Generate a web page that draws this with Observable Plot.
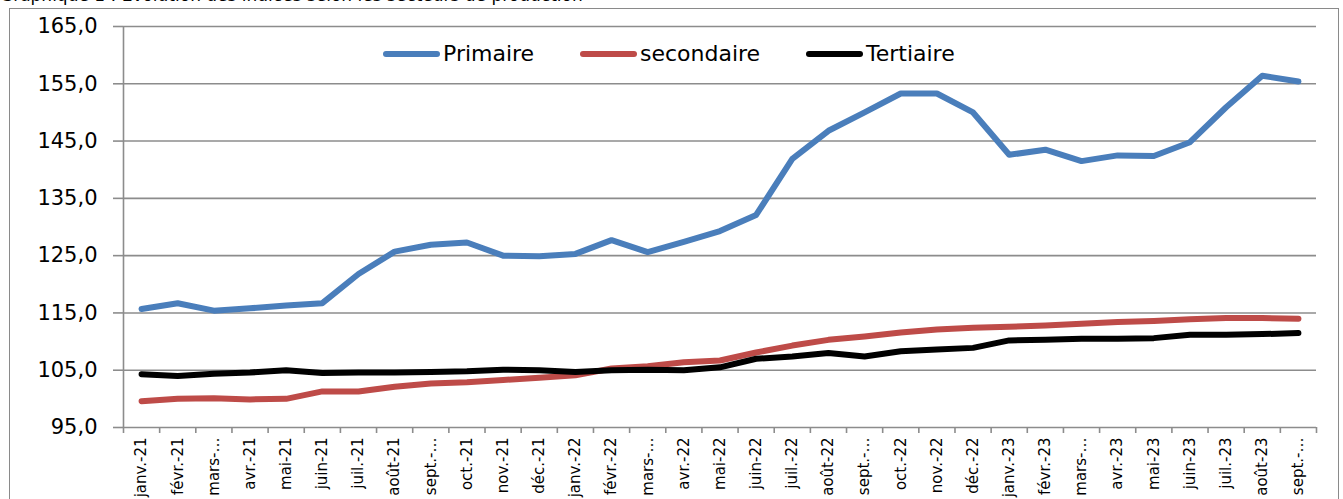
<!DOCTYPE html>
<html>
<head>
<meta charset="utf-8">
<script src="https://cdn.jsdelivr.net/npm/d3@7"></script>
<script src="https://cdn.jsdelivr.net/npm/@observablehq/plot@0.6"></script>
<style>
  html, body { margin: 0; padding: 0; background: #fff; }
  body { width: 1343px; height: 499px; overflow: hidden; position: relative; font-family: "DejaVu Sans", sans-serif; }
  #title { position: absolute; left: 0; top: -15px; font-size: 17px; color: #000; white-space: nowrap; }
  #frame { position: absolute; left: 9px; top: 8px; width: 1330px; height: 600px; border: 1.5px solid #8a8a8a; box-sizing: border-box; }
  #chart { position: absolute; left: 0; top: 0; }
  .leg { position: absolute; top: 41px; font-size: 22px; color: #000; white-space: nowrap; display: flex; align-items: center; }
  .leg .sw { display: inline-block; width: 57px; height: 6px; border-radius: 3px; margin-right: 3px; }
</style>
</head>
<body>
<div id="title">Graphique 1 : Evolution des indices selon les secteurs de production</div>
<div id="frame"></div>
<div id="chart"></div>
<div id="legend"></div>
<script>
// Categories (unique keys) and displayed tick labels
const months = ["janv.-21","févr.-21","mars-21","avr.-21","mai-21","juin-21","juil.-21","août-21","sept.-21","oct.-21","nov.-21","déc.-21",
                "janv.-22","févr.-22","mars-22","avr.-22","mai-22","juin-22","juil.-22","août-22","sept.-22","oct.-22","nov.-22","déc.-22",
                "janv.-23","févr.-23","mars-23","avr.-23","mai-23","juin-23","juil.-23","août-23","sept.-23"];
const tickLabels = ["janv.-21","févr.-21","mars-…","avr.-21","mai-21","juin-21","juil.-21","août-21","sept.-…","oct.-21","nov.-21","déc.-21",
                    "janv.-22","févr.-22","mars-…","avr.-22","mai-22","juin-22","juil.-22","août-22","sept.-…","oct.-22","nov.-22","déc.-22",
                    "janv.-23","févr.-23","mars-…","avr.-23","mai-23","juin-23","juil.-23","août-23","sept.-…"];

const sectors = ["Primaire", "secondaire", "Tertiaire"];
const sectorColors = ["#4a7ebb", "#be4b48", "#000000"];

const primaire = [115.7,116.7,115.4,115.8,116.3,116.7,121.8,125.7,126.9,127.3,125.0,124.9,
                  125.3,127.7,125.6,127.4,129.3,132.1,141.9,146.8,150.0,153.3,153.3,150.0,
                  142.6,143.5,141.5,142.5,142.4,144.8,150.9,156.4,155.4];
const secondaire = [99.6,100.0,100.1,99.9,100.0,101.3,101.3,102.1,102.7,102.9,103.3,103.7,
                    104.1,105.3,105.7,106.4,106.7,108.1,109.3,110.3,110.9,111.6,112.1,112.4,
                    112.6,112.8,113.1,113.4,113.6,113.9,114.1,114.1,114.0];
const tertiaire = [104.3,104.0,104.4,104.6,105.0,104.5,104.6,104.6,104.7,104.8,105.1,105.0,
                   104.7,105.0,105.1,105.0,105.5,107.0,107.4,108.0,107.4,108.3,108.6,108.9,
                   110.2,110.3,110.5,110.5,110.6,111.2,111.2,111.3,111.5];

const yTicks = [95,105,115,125,135,145,155,165];

const series = [primaire, secondaire, tertiaire];
const data = sectors.flatMap((s, k) => months.map((m, i) => ({i, month: m, sector: s, value: series[k][i]})));
const idx = months.map((m, i) => i);
const boundaries = months.map((m, i) => i - 0.5).concat([months.length - 0.5]);
const gridColor = "#8c8c8c";

const chart = Plot.plot({
  width: 1343,
  height: 499,
  marginLeft: 123,
  marginRight: 27,
  marginTop: 26,
  marginBottom: 72,
  style: { fontFamily: "DejaVu Sans, sans-serif", background: "transparent", color: "#000", overflow: "visible" },
  x: { type: "linear", domain: [-0.5, months.length - 0.5] },
  y: { domain: [95, 165] },
  color: { domain: sectors, range: sectorColors },
  marks: [
    Plot.gridY(yTicks, { stroke: gridColor, strokeOpacity: 1, strokeWidth: 1.6 }),
    Plot.ruleX([-0.5], { stroke: gridColor, strokeWidth: 1.6 }),
    Plot.axisY(yTicks, { tickSize: 10, tickPadding: 16, fontSize: 21, stroke: gridColor, strokeWidth: 1.6, fill: "#000",
      tickFormat: d => d.toFixed(1).replace(".", ","), label: null }),
    Plot.axisX(boundaries, { tickSize: 6, stroke: gridColor, strokeWidth: 1.6, tickFormat: () => "", label: null }),
    Plot.axisX(idx, { tickSize: 0, tickPadding: 10, tickRotate: -90, fontSize: 15, fill: "#000",
      tickFormat: i => tickLabels[i], label: null }),
    Plot.lineY(data, { x: "i", y: "value", z: "sector", stroke: "sector", strokeWidth: 6,
      strokeLinejoin: "round", strokeLinecap: "round" })
  ]
});
document.getElementById("chart").appendChild(chart);

// Legend inside the plot area
const legendPos = [383, 580, 806];
const legend = document.getElementById("legend");
sectors.forEach((s, k) => {
  const item = document.createElement("div");
  item.className = "leg";
  item.style.left = legendPos[k] + "px";
  const sw = document.createElement("span");
  sw.className = "sw";
  sw.style.background = sectorColors[k];
  const tx = document.createElement("span");
  tx.textContent = s;
  item.appendChild(sw);
  item.appendChild(tx);
  legend.appendChild(item);
});
</script>
</body>
</html>
